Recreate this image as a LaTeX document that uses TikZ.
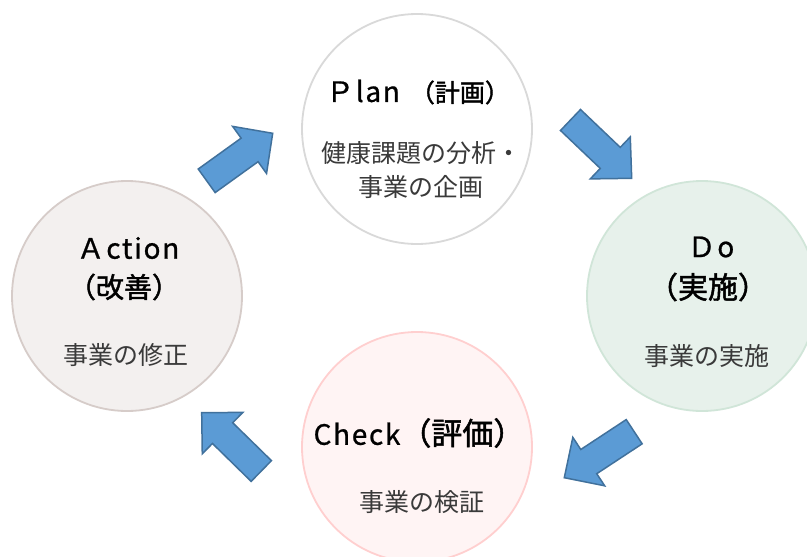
\documentclass[tikz,border=0pt]{standalone}
\usepackage{fontspec}
\setmainfont{Noto Sans CJK JP}
\newfontfamily\titlelatin[LetterSpace=6,FakeBold=0.8]{Noto Sans CJK JP}
\newfontfamily\titlekanji[FakeBold=1.6]{Noto Sans CJK JP}
\usetikzlibrary{calc}
\definecolor{planline}{HTML}{D9D9D9}
\definecolor{planfill}{HTML}{FFFFFF}
\definecolor{doline}{HTML}{D0E5D8}
\definecolor{dofill}{HTML}{E7F1EB}
\definecolor{actline}{HTML}{D6CCC9}
\definecolor{actfill}{HTML}{F3F0EF}
\definecolor{chkline}{HTML}{FFCFCF}
\definecolor{chkfill}{HTML}{FFF4F4}
\definecolor{arrowfill}{HTML}{5B9BD5}
\definecolor{arrowline}{HTML}{41719C}
\definecolor{bodygray}{HTML}{3A3A3A}
\newcommand\lt[1]{{\titlelatin\fontsize{28}{34}\selectfont #1}}
\newcommand\kj[2]{{\titlekanji\fontsize{#1}{#1}\selectfont #2}}
\newcommand\blockarr[2]{%
  \coordinate (#1j) at ($(#1)!0.65!(#2)$);
  \draw[blockarrow] ($(#1)!14.5pt!90:(#2)$) -- ($(#1j)!14.5pt!90:(#2)$) -- ($(#1j)!29pt!90:(#2)$) -- (#2) -- ($(#1j)!29pt!-90:(#2)$) -- ($(#1j)!14.5pt!-90:(#2)$) -- ($(#1)!14.5pt!-90:(#2)$) -- cycle;}
\begin{document}
\begin{tikzpicture}[x=1pt,y=-1pt,
  ring/.style={circle, minimum size=230pt, inner sep=0pt, line width=1.8pt},
  ttl/.style={text=black, inner sep=0pt, align=center},
  body/.style={font=\fontsize{25}{34.5}\selectfont, text=bodygray, inner sep=0pt, align=center},
  blockarrow/.style={fill=arrowfill, draw=arrowline, line width=1.5pt, line join=miter}]
\useasboundingbox (0,0) rectangle (807,557);
\fill[white] (0,0) rectangle (807,557);
% circles
\node[ring, draw=planline, fill=planfill] (plan) at (417,129) {};
\node[ring, draw=doline, fill=dofill] (do) at (702,296) {};
\node[ring, draw=chkline, fill=chkfill] (check) at (417,447) {};
\node[ring, draw=actline, fill=actfill] (action) at (127,296) {};
% titles
\node[ttl] (plantitle) at (418,92) {\lt{Ｐlan}\hspace{10pt}\kj{25}{（計画）}};
\node[ttl] (dotitle1) at (711,247) {\lt{Ｄo}};
\node[ttl] (dotitle2) at (708,287) {\kj{30}{（実施）}};
\node[ttl] (acttitle1) at (128,248) {\lt{Ａction}};
\node[ttl] (acttitle2) at (124,287) {\kj{28}{（改善）}};
\node[ttl] (chktitle) at (419,433) {\lt{Check}\kj{31}{（評価）}};
% bodies
\node[body] (planbody) at (421,170) {健康課題の分析・\\事業の企画};
\node[body] (dobody) at (707,356) {事業の実施};
\node[body] (actbody) at (126,355) {事業の修正};
\node[body] (chkbody) at (422,502) {事業の検証};
% block arrows
\coordinate (a1t) at (206.7,180.8);
\coordinate (a1h) at (272.7,133.3);
\coordinate (a2t) at (570.5,120);
\coordinate (a2h) at (631.7,178.3);
\coordinate (a3t) at (634.2,431.7);
\coordinate (a3h) at (564.3,477.7);
\coordinate (a4t) at (261.3,471);
\coordinate (a4h) at (201.7,412.7);
\blockarr{a1t}{a1h}
\blockarr{a2t}{a2h}
\blockarr{a3t}{a3h}
\blockarr{a4t}{a4h}
\end{tikzpicture}
\end{document}
